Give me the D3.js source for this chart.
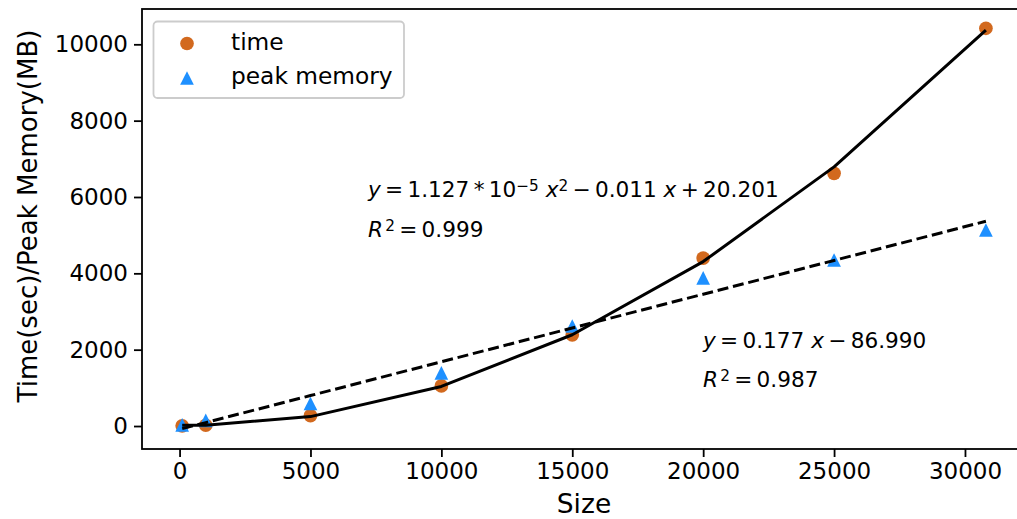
<!DOCTYPE html>
<html>
<head>
<meta charset="utf-8">
<script src="https://cdn.jsdelivr.net/npm/d3@7"></script>
<style>
  body { margin: 0; background: #fff; }
  svg { display: block; font-family: "DejaVu Sans", sans-serif; }
</style>
</head>
<body>
<div id="chart"></div>
<script>
// measured values
const sizes = [100, 1000, 5000, 10000, 15000, 20000, 25000, 30800];
const timeVals = [5, 20, 270, 1050, 2390, 4400, 6620, 10420];
const memVals = [30, 150, 590, 1390, 2620, 3880, 4350, 5135];
// fitted values at each size (quadratic for time, linear for memory)
const timeFit = [19.2, 20.5, 247, 1037, 2391, 4308, 6789, 10372];
const memFit = [-69.3, 90, 798, 1683, 2568, 3453, 4338, 5365];
const xTicks = [0, 5000, 10000, 15000, 20000, 25000, 30000];
const yTicks = [0, 2000, 4000, 6000, 8000, 10000];

const width = 1017;
const height = 519;
const orange = '#d2691e';
const blue = '#1e90ff';

const svg = d3.select('#chart')
  .append('svg')
  .attr('width', width)
  .attr('height', height);

const x = d3.scaleLinear().domain([-1435, 32335]).range([142, 1026.1]);
const y = d3.scaleLinear().domain([-602, 10925]).range([449, 9]);

const plot = svg.append('g');

// markers
plot.selectAll('.time')
  .data(sizes)
  .enter()
  .append('circle')
  .attr('cx', (d) => x(d))
  .attr('cy', (d, i) => y(timeVals[i]))
  .attr('r', 6.85)
  .attr('fill', orange);

const tri = 'M0,-6.85L-6.85,6.85L6.85,6.85Z';
plot.selectAll('.mem')
  .data(sizes)
  .enter()
  .append('path')
  .attr('d', tri)
  .attr('transform', (d, i) => `translate(${x(d)},${y(memVals[i])})`)
  .attr('fill', blue);

// fit lines
const line = d3.line().x((d) => x(d[0])).y((d) => y(d[1]));

plot.append('path')
  .datum(sizes.map((s, i) => [s, timeFit[i]]))
  .attr('d', line)
  .attr('fill', 'none')
  .attr('stroke', '#000')
  .attr('stroke-width', 3)
  .attr('stroke-linejoin', 'round');

plot.append('path')
  .datum(sizes.map((s, i) => [s, memFit[i]]))
  .attr('d', line)
  .attr('fill', 'none')
  .attr('stroke', '#000')
  .attr('stroke-width', 3)
  .attr('stroke-dasharray', '11,4.8');

// axes
const xAxis = svg.append('g')
  .attr('transform', 'translate(0,449)')
  .call(d3.axisBottom(x).tickValues(xTicks).tickFormat(d3.format('d')).tickSize(8).tickPadding(6));

const yAxis = svg.append('g')
  .attr('transform', 'translate(142,0)')
  .call(d3.axisLeft(y).tickValues(yTicks).tickFormat(d3.format('d')).tickSize(8).tickPadding(6));

[xAxis, yAxis].forEach((g) => {
  g.select('.domain').remove();
  g.selectAll('line').attr('stroke', '#000').attr('stroke-width', 1.8);
  g.selectAll('text')
    .attr('fill', '#000')
    .style('font-size', '23px')
    .style('font-family', '"DejaVu Sans", sans-serif');
});

// spines
svg.append('rect')
  .attr('x', 142)
  .attr('y', 9)
  .attr('width', 1026.1 - 142)
  .attr('height', 440)
  .attr('fill', 'none')
  .attr('stroke', '#000')
  .attr('stroke-width', 1.8);

// axis labels
svg.append('text')
  .attr('x', 584)
  .attr('y', 513)
  .attr('text-anchor', 'middle')
  .style('font-size', '26.5px')
  .text('Size');

svg.append('text')
  .attr('transform', 'translate(37,216) rotate(-90)')
  .attr('text-anchor', 'middle')
  .style('font-size', '26px')
  .text('Time(sec)/Peak Memory(MB)');

// equations
const eq = (tx, ty, parts) => {
  const t = svg.append('text')
    .attr('x', tx)
    .attr('y', ty)
    .style('font-size', '21.6px');
  parts.forEach((p) => {
    const s = t.append('tspan').text(p.t);
    if (p.i) s.style('font-style', 'italic');
    if (p.sup) s.attr('baseline-shift', '40%').style('font-size', '15.3px');
  });
};

eq(368, 197, [
  { t: 'y', i: true }, { t: '\u2009=\u20091.127\u2009*\u200910' }, { t: '\u22125', sup: true },
  { t: ' ' }, { t: 'x', i: true }, { t: '2', sup: true },
  { t: '\u2009\u2212\u20090.011 ' }, { t: 'x', i: true }, { t: '\u2009+\u200920.201' }
]);
eq(368, 237, [
  { t: 'R', i: true }, { t: '\u200a' }, { t: '2', sup: true }, { t: '\u2009=\u20090.999' }
]);
eq(703, 348, [
  { t: 'y', i: true }, { t: '\u2009=\u20090.177 ' }, { t: 'x', i: true }, { t: '\u2009\u2212\u200986.990' }
]);
eq(703, 387, [
  { t: 'R', i: true }, { t: '\u200a' }, { t: '2', sup: true }, { t: '\u2009=\u20090.987' }
]);

// legend
const legend = svg.append('g');
legend.append('rect')
  .attr('x', 153.5)
  .attr('y', 21.5)
  .attr('width', 250.5)
  .attr('height', 76.5)
  .attr('rx', 4)
  .attr('fill', '#fff')
  .attr('fill-opacity', 0.8)
  .attr('stroke', '#cccccc')
  .attr('stroke-width', 1.8);

legend.append('circle')
  .attr('cx', 187)
  .attr('cy', 43.5)
  .attr('r', 6.85)
  .attr('fill', orange);

legend.append('path')
  .attr('d', tri)
  .attr('transform', 'translate(187,78)')
  .attr('fill', blue);

legend.selectAll('.lab')
  .data(['time', 'peak memory'])
  .enter()
  .append('text')
  .attr('x', 231)
  .attr('y', (d, i) => 50 + i * 34)
  .style('font-size', '23.3px')
  .text((d) => d);
</script>
</body>
</html>
